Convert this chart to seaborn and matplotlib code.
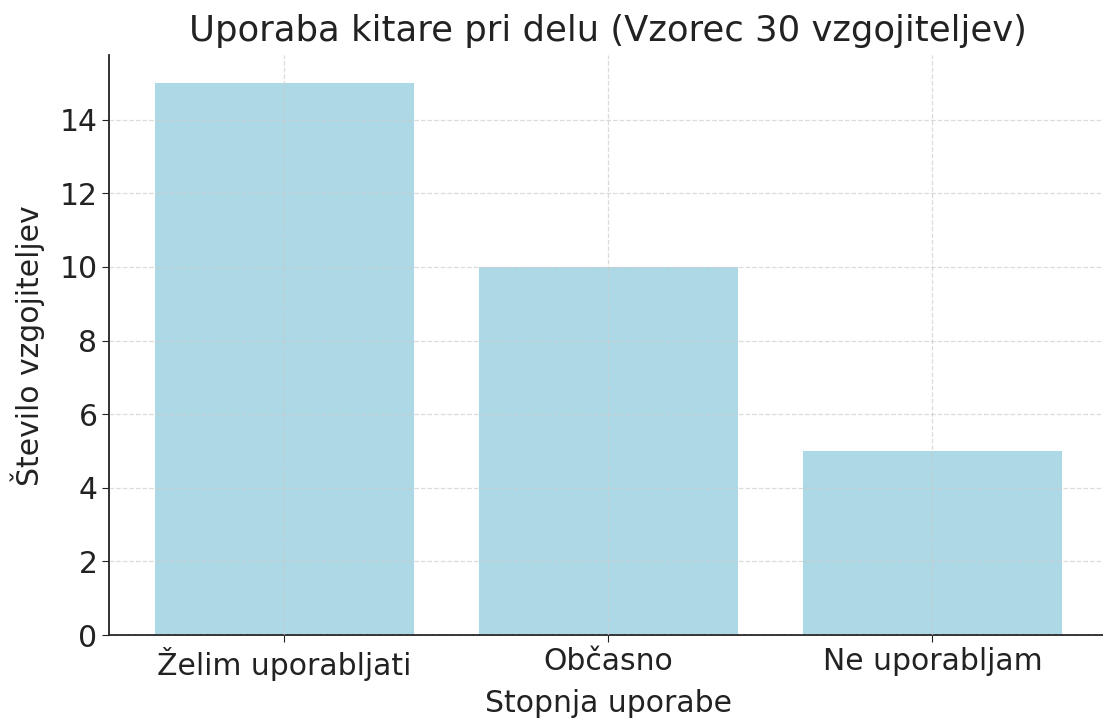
import matplotlib
matplotlib.use("Agg")
import matplotlib.pyplot as plt
import seaborn as sns
import pandas as pd

categories = ["Želim uporabljati", "Občasno", "Ne uporabljam"]
counts = [15, 10, 5]

df = pd.DataFrame({"Stopnja uporabe": categories, "Število vzgojiteljev": counts})

sns.set_style("white")
plt.rcParams['font.family'] = ['DejaVu Sans']

fig = plt.figure(figsize=(11.03, 7.23), dpi=100)
ax = fig.add_axes([0.099, 0.1217, 0.905, 0.8017])
sns.barplot(data=df, x="Stopnja uporabe", y="Število vzgojiteljev", color="lightblue",
            saturation=1, width=0.8, linewidth=0, ax=ax, zorder=1)
ax.set_xlim(-0.54, 2.54)
ax.set_ylim(0, 15.75)
ax.grid(True, linestyle="--", color="#cccccc", linewidth=0.9, alpha=0.7, zorder=3)
ax.set_axisbelow(False)
for s in ["top", "right"]:
    ax.spines[s].set_visible(False)
for s in ["left", "bottom"]:
    ax.spines[s].set_color("#222222")
    ax.spines[s].set_linewidth(1.3)
ax.tick_params(axis="both", labelsize=21.5, colors="#222222", length=5, direction="out", left=True, bottom=True)
ax.set_title("Uporaba kitare pri delu (Vzorec 30 vzgojiteljev)", fontsize=25.5, color="#222222", pad=10)
ax.set_xlabel("Stopnja uporabe", fontsize=21.5, color="#222222", labelpad=6)
ax.set_ylabel("Število vzgojiteljev", fontsize=21.5, color="#222222", labelpad=10)
ax.set_yticks([0, 2, 4, 6, 8, 10, 12, 14])
fig.savefig("out.png", dpi=100)
